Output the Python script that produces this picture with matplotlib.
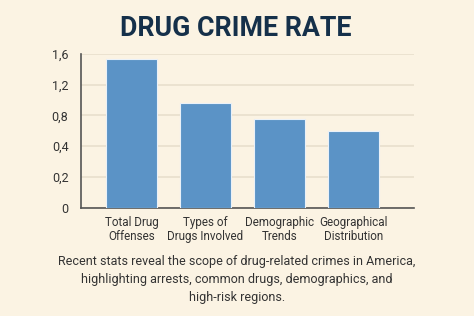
import numpy as np
import matplotlib
matplotlib.use("Agg")
import matplotlib.pyplot as plt

plt.rcParams["font.family"] = ["Roboto", "DejaVu Sans"]

# chart data
categories = ["Total Drug\nOffenses", "Types of\nDrugs Involved", "Demographic\nTrends", "Geographical\nDistribution"]
values = [1.53, 0.96, 0.75, 0.60]
tick_values = [0, 0.2, 0.4, 0.8, 1.2, 1.6]
tick_labels = ["0", "0,2", "0,4", "0,8", "1,2", "1,6"]

bg = "#fbf3e3"
bar_color = "#5b93c6"
title_color = "#15304a"
text_color = "#333333"

# the axis ticks are evenly spaced although their values are not
tick_pos = np.arange(len(tick_values))


def forward(v):
    return np.interp(v, tick_values, tick_pos)


def inverse(p):
    return np.interp(p, tick_pos, tick_values)


fig = plt.figure(figsize=(4.74, 3.16), dpi=100, facecolor=bg)
ax = fig.add_axes([81 / 474, 1 - 207.7 / 316, (414 - 81) / 474, (207.7 - 54) / 316])
ax.set_facecolor(bg)
ax.set_yscale("function", functions=(forward, inverse))

x = np.arange(len(categories))
ax.bar(x, values, width=0.69, color=bar_color, edgecolor="#eaf1f8", linewidth=0.8, zorder=3)

ax.set_xlim(-0.68, 3.815)
ax.set_ylim(0, inverse(5.1))
ax.set_yticks(tick_values)
ax.set_yticklabels(tick_labels)
ax.yaxis.grid(True, color="#e8dfcd", linewidth=1.2, zorder=0)
ax.set_xticks(x)
ax.set_xticklabels(categories, fontsize=8.4, color=text_color, linespacing=1.12)
ax.tick_params(axis="y", length=0, pad=9, labelsize=9, labelcolor=text_color)
ax.tick_params(axis="x", length=0, pad=6)

for side in ["top", "right"]:
    ax.spines[side].set_visible(False)
ax.spines["left"].set_color("#555555")
ax.spines["bottom"].set_color("#555555")
ax.spines["left"].set_linewidth(1.2)
ax.spines["bottom"].set_linewidth(1.2)

fig.text(0.497, 1 - 28 / 316, "DRUG CRIME RATE", ha="center", va="center",
         fontsize=19.3, fontweight="bold", color=title_color)

caption = ("Recent stats reveal the scope of drug-related crimes in America,\n"
           "highlighting arrests, common drugs, demographics, and\n"
           "high-risk regions.")
fig.text(0.5, 1 - 279 / 316, caption, ha="center", va="center",
         fontsize=9, color=text_color, linespacing=1.5)

fig.savefig("out.png", dpi=100, facecolor=bg)
